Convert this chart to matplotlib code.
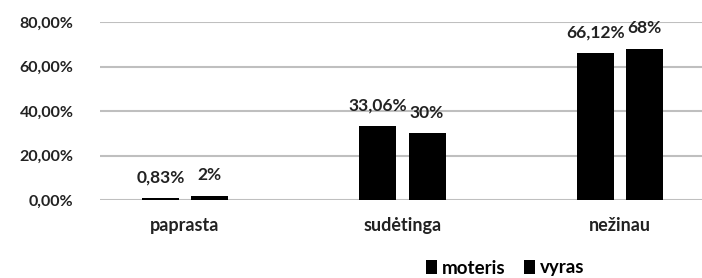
import matplotlib.pyplot as plt
import numpy as np

categories = ['paprasta', 'sudėtinga', 'nežinau']
moteris = [0.83, 33.06, 66.12]
vyras = [2, 30, 68]
moteris_labels = ['0,83%', '33,06%', '66,12%']
vyras_labels = ['2%', '30%', '68%']
yticks = [0, 20, 40, 60, 80]
ytick_labels = ['0,00%', '20,00%', '40,00%', '60,00%', '80,00%']

plt.rcParams['font.family'] = ['Lato', 'DejaVu Sans']
plt.rcParams['font.weight'] = 'bold'

defaultDpi = 100
fig = plt.figure(figsize=(702/defaultDpi, 278/defaultDpi), dpi=defaultDpi)
ax = fig.add_axes([100/702, 78/278, 602/702, 178/278])

x = np.arange(len(categories))
w = 0.17
off = 0.113
b1 = ax.bar(x - off, moteris, w, color='black', label='moteris', zorder=3)
b2 = ax.bar(x + off, vyras, w, color='black', label='vyras', zorder=3)

for rect, lab in zip(b1, moteris_labels):
    ax.text(rect.get_x() + rect.get_width()/2, rect.get_height() + 7, lab,
            ha='center', va='baseline', fontsize=12.5, fontweight='bold', color='#222222')
for rect, lab in zip(b2, vyras_labels):
    ax.text(rect.get_x() + rect.get_width()/2, rect.get_height() + 7, lab,
            ha='center', va='baseline', fontsize=12.5, fontweight='bold', color='#222222')

ax.set_xlim((100-185)/217.5, (702-185)/217.5)
ax.set_ylim(0, 80)
ax.set_yticks(yticks)
ax.set_yticklabels(ytick_labels, fontsize=11.5, fontweight='bold', color='#222222')
ax.set_xticks(x)
ax.set_xticklabels(categories, fontsize=13, fontweight='bold', color='#222222')
ax.tick_params(axis='y', length=0, pad=19)
ax.tick_params(axis='x', length=0, pad=12)
ax.yaxis.grid(True, color='#bfbfbf', linewidth=1.5, zorder=0)
for s in ax.spines.values():
    s.set_visible(False)

fig.legend(loc='center', bbox_to_anchor=(505/702, 1 - 268/278), ncol=2, frameon=False,
           handlelength=0.6, handleheight=0.7, handletextpad=0.25,
           columnspacing=1.0, prop={'weight': 'bold', 'size': 13.5})

plt.savefig('out.png', dpi=defaultDpi)
